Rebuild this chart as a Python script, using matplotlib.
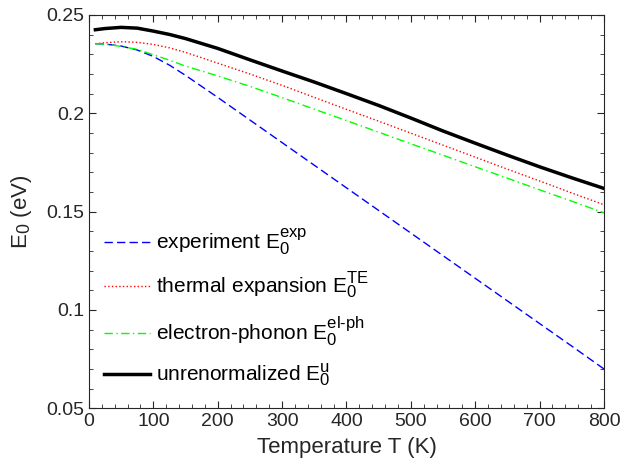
import numpy as np
import matplotlib
matplotlib.use('Agg')
from matplotlib import pyplot as plt
from matplotlib.ticker import MultipleLocator
import matplotlib._mathtext as mathtext_internals

# MATLAB-like larger sub/superscripts
mathtext_internals.SHRINK_FACTOR = 0.8

plt.rcParams['font.family'] = ['Liberation Sans', 'DejaVu Sans']
plt.rcParams['mathtext.fontset'] = 'custom'
plt.rcParams['mathtext.rm'] = 'Liberation Sans'
plt.rcParams['mathtext.it'] = 'Liberation Sans'

# Temperature grid (K) and band-gap values (eV)
temperature = [10, 25, 50, 75, 100, 125, 150, 200, 250, 300, 350, 400,
               450, 500, 550, 600, 650, 700, 750, 800]
e_experiment = [0.2354, 0.2352, 0.2342, 0.2322, 0.2289, 0.2245, 0.2193,
                0.2081, 0.1966, 0.1851, 0.1736, 0.1621, 0.1506, 0.1391,
                0.1276, 0.1161, 0.1046, 0.0931, 0.0816, 0.0700]
e_thermal = [0.2354, 0.2359, 0.2364, 0.2361, 0.2350, 0.2333, 0.2310,
             0.2255, 0.2200, 0.2142, 0.2081, 0.2020, 0.1960, 0.1899,
             0.1838, 0.1777, 0.1716, 0.1656, 0.1595, 0.1535]
e_elph = [0.2354, 0.2352, 0.2340, 0.2325, 0.2298, 0.2270, 0.2240,
          0.2190, 0.2137, 0.2080, 0.2021, 0.1963, 0.1904, 0.1845,
          0.1787, 0.1728, 0.1670, 0.1611, 0.1553, 0.1494]
e_unren = [0.2425, 0.2431, 0.2437, 0.2433, 0.2418, 0.2401, 0.2380,
           0.2330, 0.2272, 0.2215, 0.2159, 0.2100, 0.2040, 0.1976,
           0.1910, 0.1848, 0.1787, 0.1728, 0.1672, 0.1618]

labels = [r'experiment $\mathregular{E_0^{exp}}$',
          r'thermal expansion $\mathregular{E_0^{TE}}$',
          r'electron-phonon $\mathregular{E_0^{el\text{-}ph}}$',
          r'unrenormalized $\mathregular{E_0^{u}}$']

fig = plt.figure(figsize=(6.22, 4.68), dpi=100)
ax = fig.add_axes([0.143, 0.1276, 0.828, 0.8404])

ax.plot(temperature, e_experiment, '--', color='#0000ff', linewidth=1.0,
        dashes=(6, 3))
ax.plot(temperature, e_thermal, ':', color='#ff0000', linewidth=1.0)
ax.plot(temperature, e_elph, '-.', color='#00ff00', linewidth=1.0,
        dashes=(6, 2.5, 1, 2.5))
ax.plot(temperature, e_unren, '-', color='black', linewidth=2.5)

ax.set_xlim(0, 800)
ax.set_ylim(0.05, 0.25)
ax.set_xticks(np.arange(0, 801, 100))
ax.set_yticks([0.05, 0.1, 0.15, 0.2, 0.25])
ax.set_yticklabels(['0.05', '0.1', '0.15', '0.2', '0.25'])
ax.xaxis.set_minor_locator(MultipleLocator(20))
ax.yaxis.set_minor_locator(MultipleLocator(0.01))
ax.tick_params(which='both', direction='in', top=True, right=True,
               colors='#262626', labelcolor='#262626', labelsize=14)
ax.tick_params(which='major', length=5, width=0.8)
ax.tick_params(which='minor', length=3, width=0.6)
for sp in ax.spines.values():
    sp.set_color('#262626')
    sp.set_linewidth(0.8)

ax.set_xlabel('Temperature T (K)', fontsize=16, color='#262626', labelpad=5)
ax.set_ylabel(r'$\mathregular{E_0}$ (eV)', fontsize=16, color='#262626',
              labelpad=9)

ax.legend(labels=labels, loc='lower left', frameon=False, fontsize=15,
          handlelength=2.25, handletextpad=0.25, labelspacing=0.65,
          bbox_to_anchor=(0.0, 0.013), borderaxespad=0.3)

fig.savefig('out.png', dpi=100)
